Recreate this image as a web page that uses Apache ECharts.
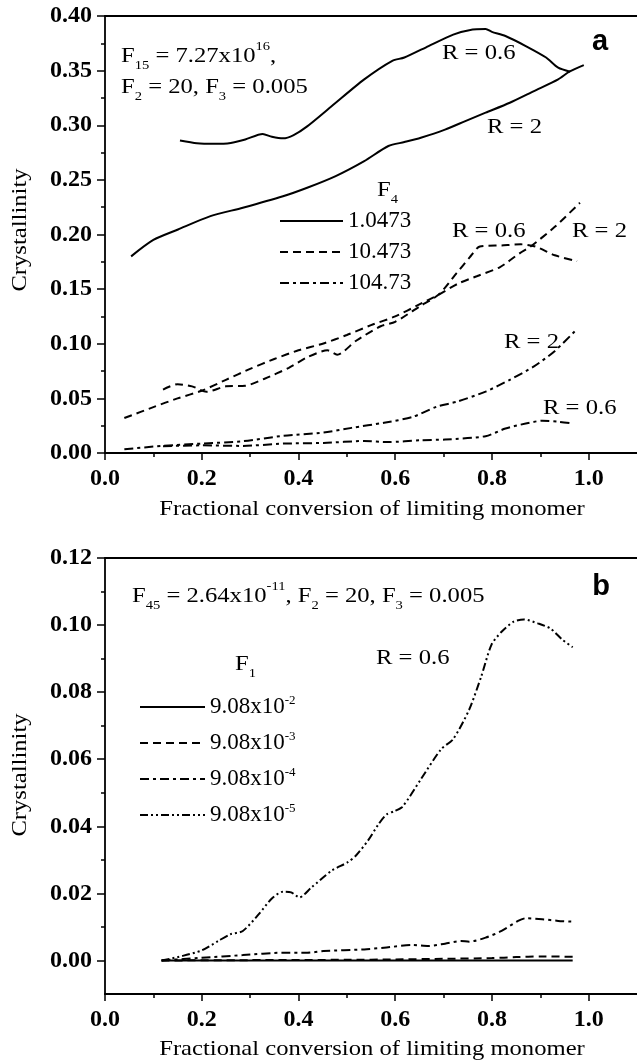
<!DOCTYPE html>
<html><head><meta charset="utf-8">
<script src="https://cdn.jsdelivr.net/npm/echarts@6/dist/echarts.min.js"></script>
<style>html,body{margin:0;padding:0;background:#fff}#c{width:637px;height:1063px}</style>
</head><body><div id="c"></div>
<script>
// ---------- tick values ----------
const xTicks = [0, 0.2, 0.4, 0.6, 0.8, 1.0];
const xMinorTicks = [0.1, 0.3, 0.5, 0.7, 0.9];
const yTicksB = [0, 0.02, 0.04, 0.06, 0.08, 0.10, 0.12];
const yMinorTicksB = [0.01, 0.03, 0.05, 0.07, 0.09, 0.11];

// ---------- panel a : legend names (F4) ----------
const legendA = ['1.0473', '10.473', '104.73'];
// F4 = 1.0473
const aSolidR06 = [[0.155,0.286],[0.19,0.2835],[0.226,0.283],[0.26,0.2838],[0.29,0.287],[0.326,0.292],[0.345,0.2895],[0.368,0.288],[0.39,0.291],[0.418,0.299],[0.469,0.3176],[0.536,0.342],[0.594,0.359],[0.619,0.362],[0.669,0.3725],[0.72,0.383],[0.753,0.387],[0.787,0.388],[0.80,0.3855],[0.828,0.3817],[0.870,0.3725],[0.912,0.362],[0.937,0.3527],[0.962,0.349]];
const aSolidR2 = [[0.054,0.18],[0.1,0.195],[0.151,0.2046],[0.218,0.2168],[0.285,0.2245],[0.368,0.235],[0.418,0.2428],[0.477,0.2535],[0.536,0.2672],[0.586,0.281],[0.619,0.2846],[0.653,0.2886],[0.703,0.296],[0.745,0.3038],[0.787,0.3115],[0.837,0.3206],[0.887,0.3313],[0.937,0.342],[0.96,0.349],[0.99,0.355]];
// F4 = 10.473
const aDashR06 = [[0.12,0.058],[0.15,0.063],[0.18,0.061],[0.21,0.056],[0.25,0.061],[0.29,0.0615],[0.33,0.068],[0.38,0.078],[0.42,0.088],[0.46,0.094],[0.48,0.09],[0.52,0.103],[0.57,0.116],[0.6,0.12],[0.65,0.134],[0.69,0.145],[0.727,0.1646],[0.754,0.179],[0.775,0.189],[0.82,0.19],[0.86,0.191],[0.89,0.189],[0.93,0.181],[0.976,0.1756]];
const aDashR2 = [[0.04,0.032],[0.1,0.042],[0.15,0.05],[0.2,0.057],[0.25,0.067],[0.3,0.077],[0.35,0.086],[0.4,0.094],[0.45,0.1],[0.5,0.108],[0.55,0.117],[0.6,0.125],[0.65,0.136],[0.69,0.145],[0.73,0.155],[0.77,0.162],[0.816,0.170],[0.858,0.183],[0.88,0.189],[0.93,0.207],[0.982,0.229]];
// F4 = 104.73
const aDotR2 = [[0.04,0.0034],[0.117,0.0065],[0.2,0.0086],[0.285,0.0108],[0.368,0.0157],[0.452,0.0187],[0.51,0.023],[0.577,0.0277],[0.636,0.033],[0.686,0.0424],[0.728,0.047],[0.787,0.0562],[0.837,0.067],[0.887,0.0793],[0.929,0.093],[0.975,0.113]];
const aDotR06 = [[0.12,0.0062],[0.2,0.007],[0.285,0.0065],[0.368,0.0086],[0.452,0.0092],[0.536,0.011],[0.586,0.01],[0.653,0.0117],[0.703,0.0123],[0.787,0.0154],[0.828,0.0224],[0.87,0.027],[0.904,0.0295],[0.937,0.0286],[0.967,0.027]];

// ---------- panel b : legend names (F1) ----------
const legendB = ['9.08x10-2', '9.08x10-3', '9.08x10-4', '9.08x10-5'];
const bE2 = [[0.117,0],[0.3,0],[0.5,0],[0.7,0],[0.967,0]];
const bE3 = [[0.117,0],[0.3,0.0001],[0.5,0.0002],[0.6,0.0003],[0.7,0.0005],[0.8,0.0007],[0.85,0.001],[0.9,0.0012],[0.967,0.0011]];
const bE4 = [[0.117,0],[0.2,0.0008],[0.285,0.0016],[0.368,0.0023],[0.418,0.0023],[0.452,0.0028],[0.536,0.0033],[0.577,0.0038],[0.636,0.0046],[0.669,0.0043],[0.703,0.005],[0.736,0.0058],[0.753,0.0056],[0.787,0.0068],[0.82,0.0088],[0.854,0.0118],[0.87,0.0126],[0.904,0.0123],[0.937,0.0118],[0.967,0.0116]];
const bE5 = [[0.117,0],[0.159,0.0013],[0.2,0.003],[0.234,0.0058],[0.259,0.0078],[0.285,0.0088],[0.318,0.0138],[0.345,0.0185],[0.368,0.0205],[0.385,0.0203],[0.402,0.0188],[0.427,0.0218],[0.469,0.0268],[0.502,0.0293],[0.519,0.0313],[0.544,0.0358],[0.565,0.0405],[0.582,0.0435],[0.598,0.0445],[0.615,0.0458],[0.653,0.054],[0.695,0.063],[0.72,0.066],[0.753,0.0748],[0.778,0.0847],[0.799,0.0941],[0.82,0.098],[0.845,0.101],[0.866,0.1017],[0.895,0.1005],[0.921,0.099],[0.946,0.0956],[0.967,0.0934]];

// ---------- styles ----------
const SERIF = 'Liberation Serif';
const BLACK = '#000';
const DASH = [8, 5];
const DASHDOT = [9, 4, 3, 4];
const DASHDOTDOT = [8, 3, 2, 3, 2, 3];
const TXT = 22, SX = 1.12;

function line(name, data, type, xi, yi) {
  return {
    type: 'line', name, data, xAxisIndex: xi, yAxisIndex: yi,
    symbol: 'none', smooth: 0.25, animation: false, silent: true,
    lineStyle: { color: BLACK, width: 2, type },
    itemStyle: { color: BLACK }
  };
}

function mainX(grid, labels) {
  return {
    type: 'value', gridIndex: grid, position: 'bottom', min: 0, max: 1.1,
    axisLine: { show: true, onZero: false, lineStyle: { color: BLACK, width: 1.8 } },
    axisTick: { show: true, customValues: xTicks, length: 7, lineStyle: { color: BLACK, width: 1.5 } },
    axisLabel: { show: labels, customValues: xTicks, margin: 14, color: BLACK, fontFamily: SERIF, fontWeight: 'bold', fontSize: 24,
      formatter: v => v.toFixed(1) },
    splitLine: { show: false }
  };
}
function minorX(grid) {
  return {
    type: 'value', gridIndex: grid, position: 'bottom', min: 0, max: 1.1,
    axisLine: { show: false, onZero: false },
    axisTick: { show: true, customValues: xMinorTicks, length: 4, lineStyle: { color: BLACK, width: 1.5 } },
    axisLabel: { show: false }, splitLine: { show: false }
  };
}
function topX(grid) {
  return {
    type: 'value', gridIndex: grid, position: 'top', min: 0, max: 1.1,
    axisLine: { show: true, onZero: false, lineStyle: { color: BLACK, width: 1.8 } },
    axisTick: { show: false }, axisLabel: { show: false }, splitLine: { show: false }
  };
}

const richSS = {
  sub: { fontFamily: SERIF, fontSize: 13, lineHeight: 13, verticalAlign: 'bottom', fill: BLACK, color: BLACK },
  sup: { fontFamily: SERIF, fontSize: 13, lineHeight: 16, verticalAlign: 'top', fill: BLACK, color: BLACK }
};

function gtext(text, x, y, opts) {
  opts = opts || {};
  return {
    type: 'text', x, y, rotation: opts.rot || 0, scaleX: opts.sx || SX, silent: true, z: 100,
    style: {
      text, fill: BLACK, fontFamily: opts.family || SERIF, fontSize: opts.size || TXT,
      fontWeight: opts.weight || 'normal', lineHeight: opts.lh || 32,
      align: opts.align || 'left', verticalAlign: 'middle', rich: richSS
    }
  };
}

const chart = echarts.init(document.getElementById('c'), null, { renderer: 'canvas' });
chart.setOption({
  animation: false,
  backgroundColor: '#fff',
  grid: [
    { left: 105, top: 16, width: 534, height: 437 },
    { left: 105, top: 558, width: 534, height: 436 }
  ],
  xAxis: [ mainX(0, true), minorX(0), topX(0), mainX(1, true), minorX(1), topX(1) ],
  yAxis: [
    { type: 'value', gridIndex: 0, position: 'left', min: 0, max: 0.4, interval: 0.05,
      axisLine: { show: true, onZero: false, lineStyle: { color: BLACK, width: 1.8 } },
      axisTick: { show: true, length: 8, lineStyle: { color: BLACK, width: 1.5 } },
      minorTick: { show: true, splitNumber: 2, length: 4, lineStyle: { color: BLACK, width: 1.5 } },
      axisLabel: { margin: 13, color: BLACK, fontFamily: SERIF, fontWeight: 'bold', fontSize: 24, formatter: v => v.toFixed(2) },
      splitLine: { show: false }, minorSplitLine: { show: false } },
    { type: 'value', gridIndex: 1, position: 'left', min: -0.01, max: 0.12,
      axisLine: { show: true, onZero: false, lineStyle: { color: BLACK, width: 1.8 } },
      axisTick: { show: true, customValues: yTicksB, length: 8, lineStyle: { color: BLACK, width: 1.5 } },
      axisLabel: { customValues: yTicksB, margin: 13, color: BLACK, fontFamily: SERIF, fontWeight: 'bold', fontSize: 24, formatter: v => v.toFixed(2) },
      splitLine: { show: false } },
    { type: 'value', gridIndex: 1, position: 'left', min: -0.01, max: 0.12,
      axisLine: { show: false, onZero: false },
      axisTick: { show: true, customValues: yMinorTicksB, length: 4, lineStyle: { color: BLACK, width: 1.5 } },
      axisLabel: { show: false }, splitLine: { show: false } }
  ],
  legend: [
    { data: legendA, orient: 'vertical', left: 274, top: 204, itemWidth: 63, itemHeight: 14, itemGap: 7,
      selectedMode: false, itemStyle: { color: 'rgba(0,0,0,0)', borderWidth: 0, opacity: 0 },
      textStyle: { color: BLACK, fontFamily: SERIF, fontSize: 23, lineHeight: 24 } },
    { data: legendB, orient: 'vertical', left: 134, top: 689, itemWidth: 65, itemHeight: 14, itemGap: 10,
      selectedMode: false, itemStyle: { color: 'rgba(0,0,0,0)', borderWidth: 0, opacity: 0 },
      formatter: n => n.replace(/x10(-\d)/, 'x10{sup|$1}'),
      textStyle: { color: BLACK, fontFamily: SERIF, fontSize: 23, lineHeight: 26,
        rich: { sup: { color: BLACK, fontFamily: SERIF, fontSize: 13, lineHeight: 14, verticalAlign: 'top' } } } }
  ],
  series: [
    line(legendA[0], aSolidR06, 'solid', 0, 0),
    line(legendA[0], aSolidR2, 'solid', 0, 0),
    line(legendA[1], aDashR06, DASH, 0, 0),
    line(legendA[1], aDashR2, DASH, 0, 0),
    line(legendA[2], aDotR2, DASHDOT, 0, 0),
    line(legendA[2], aDotR06, DASHDOT, 0, 0),
    line(legendB[0], bE2, 'solid', 3, 1),
    line(legendB[1], bE3, DASH, 3, 1),
    line(legendB[2], bE4, DASHDOT, 3, 1),
    line(legendB[3], bE5, DASHDOTDOT, 3, 1)
  ],
  graphic: [
    // panel a
    gtext('F{sub|15} = 7.27x10{sup|16},', 121, 56),
    gtext('F{sub|2} = 20, F{sub|3} = 0.005', 121, 87),
    gtext('R = 0.6', 442, 53),
    gtext('R = 2', 487, 127),
    gtext('a', 600, 42, { family: 'Liberation Sans', weight: 'bold', size: 29, align: 'center', sx: 1 }),
    gtext('F{sub|4}', 377, 190),
    gtext('R = 0.6', 452, 231),
    gtext('R = 2', 572, 231),
    gtext('R = 2', 504, 342),
    gtext('R = 0.6', 543, 408),
    gtext('Crystallinity', 20, 230, { rot: Math.PI / 2, align: 'center' }),
    gtext('Fractional conversion of limiting monomer', 372, 509, { align: 'center' }),
    // panel b
    gtext('F{sub|45} = 2.64x10{sup|-11}, F{sub|2} = 20, F{sub|3} = 0.005', 132, 596),
    gtext('b', 601, 587, { family: 'Liberation Sans', weight: 'bold', size: 29, align: 'center', sx: 1 }),
    gtext('R = 0.6', 376, 658),
    gtext('F{sub|1}', 235, 664),
    gtext('Crystallinity', 20, 775, { rot: Math.PI / 2, align: 'center' }),
    gtext('Fractional conversion of limiting monomer', 372, 1049, { align: 'center' })
  ]
});
</script></body></html>
